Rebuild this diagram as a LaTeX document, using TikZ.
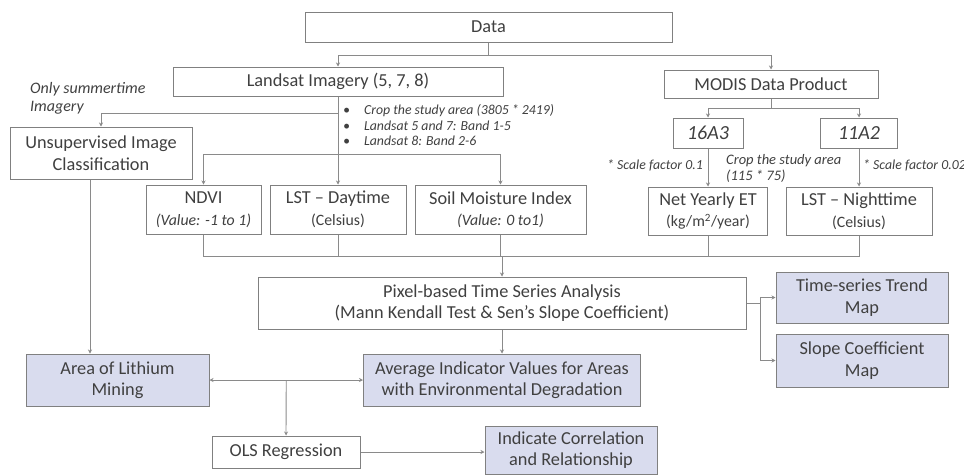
\documentclass[tikz,border=0pt]{standalone}
\usepackage{fontspec}
\setmainfont{Carlito}
\usetikzlibrary{arrows.meta,calc}
\definecolor{boxline}{HTML}{808080}
\definecolor{conn}{HTML}{8A8A8A}
\definecolor{resfill}{HTML}{D9DCEE}
\newcommand{\subl}[1]{{\fontsize{15.8}{19}\selectfont #1}}
\begin{document}
\begin{tikzpicture}[x=1pt,y=-1pt,
  box/.style={draw=boxline,line width=1pt,fill=white,align=center,inner sep=1pt,font=\fontsize{18.3}{21.5}\selectfont,text=black!75},
  resbox/.style={box,fill=resfill},
  lbl/.style={font=\fontsize{13.8}{15}\selectfont\itshape,text=black!75,inner sep=0pt,align=left},
  conline/.style={draw=conn,line width=0.9pt},
  arr/.style={conline,-{Stealth[length=4pt,width=4pt]}},
  arrtwo/.style={conline,{Stealth[length=4pt,width=4pt]}-{Stealth[length=4pt,width=4pt]}}]
\useasboundingbox (0,0) rectangle (964,475);
% nodes
\node[box,minimum width=367pt,minimum height=30pt] (data) at (488.5,27) {Data};
\node[box,minimum width=330pt,minimum height=29pt] (landsat) at (338,81.5) {Landsat Imagery (5, 7, 8)};
\node[box,minimum width=214pt,minimum height=28pt] (modis) at (771,84) {MODIS Data Product};
\node[box,minimum width=182pt,minimum height=52pt] (unsup) at (101,153) {Unsupervised Image\\Classification};
\node[box,minimum width=115pt,minimum height=49pt] (ndvi) at (203.5,209.5) {NDVI\\\subl{\itshape (Value: -1 to 1)}};
\node[box,minimum width=136pt,minimum height=49pt] (lstd) at (338,209.5) {LST -- Daytime\\\subl{(Celsius)}};
\node[box,minimum width=171pt,minimum height=49pt] (soil) at (500.5,209.5) {Soil Moisture Index\\\subl{\itshape (Value: 0 to1)}};
\node[box,minimum width=70pt,minimum height=30pt,font=\fontsize{20}{22}\selectfont\itshape] (a16) at (708,133) {16A3};
\node[box,minimum width=77pt,minimum height=30pt,font=\fontsize{20}{22}\selectfont\itshape] (a11) at (859,133) {11A2};
\node[box,minimum width=119pt,minimum height=48pt] (net) at (708,211) {Net Yearly ET\\\subl{(kg/m\textsuperscript{2}/year)}};
\node[box,minimum width=146pt,minimum height=48pt] (lstn) at (859,211) {LST -- Nighttime\\\subl{(Celsius)}};
\node[box,minimum width=488pt,minimum height=52pt] (pixel) at (502,303) {Pixel-based Time Series Analysis\\(Mann Kendall Test \& Sen's Slope Coefficient)};
\node[resbox,minimum width=172pt,minimum height=51pt] (trend) at (862,297.5) {Time-series Trend\\Map};
\node[resbox,minimum width=172pt,minimum height=53pt] (slope) at (862,360.5) {Slope Coefficient\\Map};
\node[resbox,minimum width=183pt,minimum height=52pt] (area) at (117.5,380) {Area of Lithium\\Mining};
\node[resbox,minimum width=277pt,minimum height=52pt] (avg) at (502,380) {Average Indicator Values for Areas\\with Environmental Degradation};
\node[box,minimum width=148pt,minimum height=32pt] (ols) at (286,452) {OLS Regression};
\node[resbox,minimum width=172pt,minimum height=48pt] (corr) at (571,450) {Indicate Correlation\\and Relationship};
% labels
\node[lbl,anchor=north west,font=\fontsize{16}{18}\selectfont\itshape] (summer) at (30,82) {Only summertime\\Imagery};
\node[lbl,anchor=west] (b1) at (343,111) {\textbullet\hspace{14pt}Crop the study area (3805 * 2419)};
\node[lbl,anchor=west] (b2) at (343,126) {\textbullet\hspace{14pt}Landsat 5 and 7: Band 1-5};
\node[lbl,anchor=west] (b3) at (343,141) {\textbullet\hspace{14pt}Landsat 8: Band 2-6};
\node[lbl,anchor=west] (sf1) at (607,165) {* Scale factor 0.1};
\node[lbl,anchor=west,font=\fontsize{14.5}{16}\selectfont\itshape] (crop2) at (726,168) {Crop the study area\\(115 * 75)};
\node[lbl,anchor=west] (sf2) at (863,165) {* Scale factor 0.02};
% coordinates
\coordinate (j1) at (338,113);
\coordinate (j2) at (338,154);
\coordinate (bus) at (0,256);
\coordinate (split) at (760,303);
% connectors
\draw[arr] (data.south) -- ++(0,13) -| (landsat.north);
\draw[arr] (data.south) -- ++(0,13) -| (modis.north);
\draw[arr] (landsat.south) -- (lstd.north);
\draw[arr] (j1) -| (unsup.north);
\draw[arr] (j2) -| (ndvi.north);
\draw[arr] (j2) -| (soil.north);
\draw[arr] (modis.south) -- ++(0,10) -| (a16.north);
\draw[arr] (modis.south) -- ++(0,10) -| (a11.north);
\draw[arr] (a16.south) -- (net.north);
\draw[arr] (a11.south) -- (lstn.north);
\draw[conline] (ndvi.south) -- (ndvi.south |- bus) -| (lstn.south);
\draw[conline] (lstd.south) -- (lstd.south |- bus);
\draw[conline] (soil.south) -- (soil.south |- bus);
\draw[conline] (net.south) -- (net.south |- bus);
\draw[arr] (pixel.north |- bus) -- (pixel.north);
\draw[conline] (pixel.east) -- (split);
\draw[arr] (split) |- (trend.west);
\draw[arr] (split) |- (slope.west);
\draw[arr] (pixel.south) -- (avg.north);
\draw[arr] ([xshift=-11pt]unsup.south) -- ([xshift=-11pt]unsup.south |- area.north);
\draw[arrtwo] (area.east) -- (avg.west);
\draw[arr] ($(area.east)!0.5!(avg.west)$) -- (ols.north);
\draw[arr] (ols.east) -- (ols.east -| corr.west);
\end{tikzpicture}
\end{document}
